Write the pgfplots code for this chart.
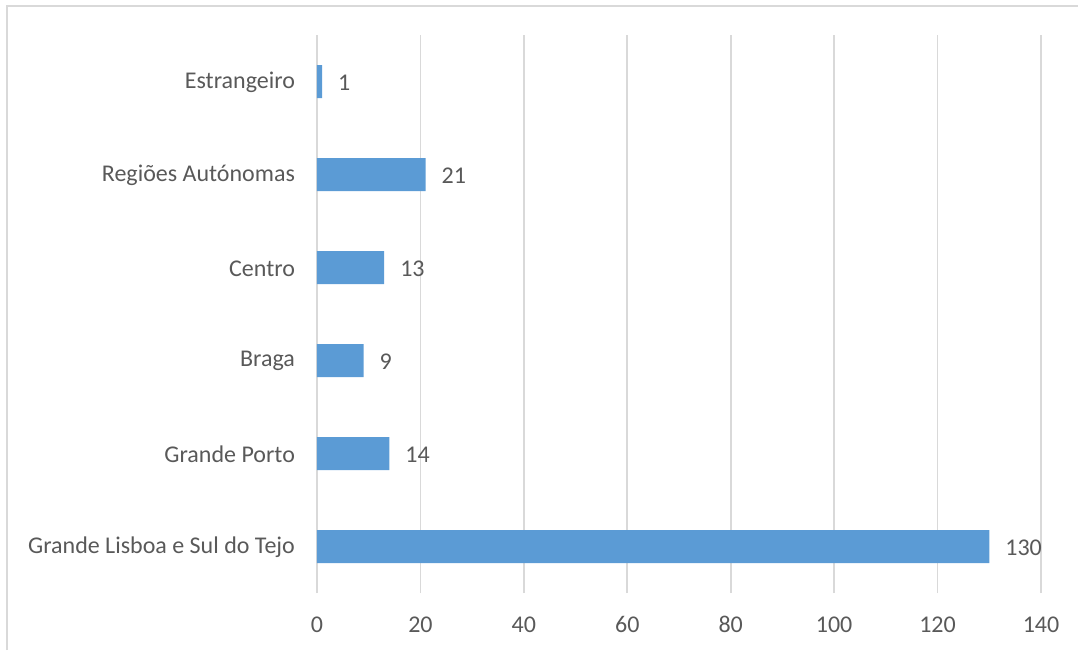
\documentclass[border=0pt]{standalone}
\usepackage{pgfplots}
\pgfplotsset{compat=1.18}
\usepackage{fontspec}
\setmainfont{Carlito}
\definecolor{barblue}{HTML}{5B9BD5}
\definecolor{gridgray}{HTML}{D9D9D9}
\definecolor{txtgray}{HTML}{595959}
\begin{document}
\begin{tikzpicture}
\useasboundingbox (0,0) rectangle (539pt,325pt);
\draw[gridgray, line width=0.9pt] (3.5pt,0) -- (3.5pt,322pt) -- (539pt,322pt);
\begin{axis}[
  at={(158.5pt,28.5pt)}, anchor=south west,
  scale only axis, width=362pt, height=279pt,
  xbar, bar width=16.5pt,
  xmin=0, xmax=140,
  ymin=-0.5, ymax=5.5,
  xtick={0,20,...,140},
  ytick={0,1,2,3,4,5},
  yticklabels={Grande Lisboa e Sul do Tejo, Grande Porto, Braga, Centro, Regiões Autónomas, Estrangeiro},
  axis line style={draw=none},
  major tick length=0pt,
  xmajorgrids, grid style={gridgray, line width=0.9pt},
  ymajorgrids=false,
  /pgf/number format/assume math mode=true,
  tick label style={font=\fontsize{12}{14}\selectfont, text=txtgray},
  xticklabel style={anchor=base, yshift=-19.8pt},
  yticklabel style={xshift=-7.5pt, yshift=-0.4pt},
  nodes near coords,
  every node near coord/.append style={font=\fontsize{12}{14}\selectfont, text=txtgray, anchor=west, xshift=4.5pt, yshift=-0.4pt},
]
\addplot[fill=barblue, draw=none] coordinates {
  (130,0) (14,1) (9,2) (13,3) (21,4) (1,5)
};
\end{axis}
\end{tikzpicture}
\end{document}
